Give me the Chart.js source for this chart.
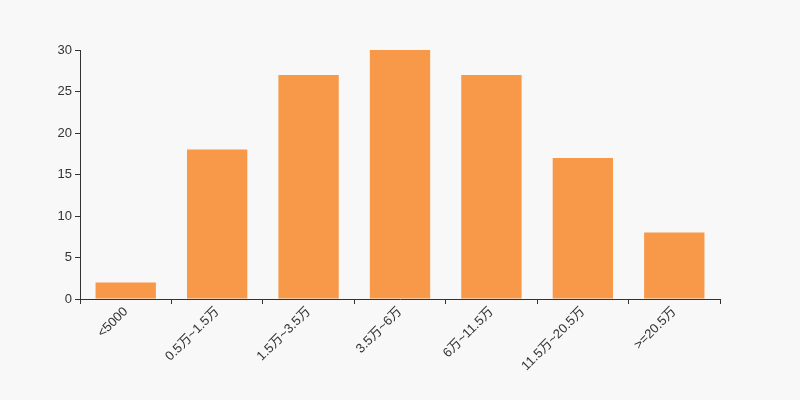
<!DOCTYPE html>
<html>
<head>
<meta charset="utf-8">
<script src="https://cdn.jsdelivr.net/npm/chart.js@4/dist/chart.umd.min.js"></script>
<style>
  html, body { margin: 0; padding: 0; background: #f8f8f8; }
  #wrap { width: 800px; height: 400px; }
</style>
</head>
<body>
<div id="wrap"><canvas id="bar_chart" width="800" height="400"></canvas></div>
<script>
const categories = ["<5000", "0.5万~1.5万", "1.5万~3.5万", "3.5万~6万", "6万~11.5万", "11.5万~20.5万", ">=20.5万"];
const counts = [2, 18, 27, 30, 27, 17, 8];
const yTicks = [0, 5, 10, 15, 20, 25, 30];

const FONT = "'Liberation Sans', Arial, 'Noto Sans CJK SC', sans-serif";
const AXIS_COLOR = "#333";

window.onload = function () {
  const ctx = document.getElementById("bar_chart").getContext("2d");
  new Chart(ctx, {
    type: "bar",
    data: {
      labels: categories,
      datasets: [
        {
          data: counts,
          backgroundColor: "#f8994a",
          barPercentage: 0.66,
          categoryPercentage: 1,
        },
      ],
    },
    options: {
      responsive: false,
      animation: false,
      layout: { padding: { left: 0, top: 50, right: 80, bottom: 0 } },
      plugins: {
        legend: { display: false },
        tooltip: { enabled: false },
      },
      scales: {
        x: {
          offset: true,
          grid: {
            display: true,
            offset: true,
            drawOnChartArea: false,
            drawTicks: true,
            tickLength: 5,
            color: AXIS_COLOR,
          },
          border: { display: true, color: AXIS_COLOR, width: 1 },
          ticks: {
            autoSkip: false,
            minRotation: 45,
            maxRotation: 45,
            padding: 0,
            color: "#333",
            font: { family: FONT, size: 13 },
          },
          afterFit(axis) {
            axis.height = 101;
          },
        },
        y: {
          min: 0,
          max: 30,
          afterBuildTicks(axis) {
            axis.ticks = yTicks.map((v) => ({ value: v }));
          },
          grid: {
            display: true,
            drawOnChartArea: false,
            drawTicks: true,
            tickLength: 5,
            color: AXIS_COLOR,
          },
          border: { display: true, color: AXIS_COLOR, width: 1 },
          ticks: {
            padding: 3,
            color: "#333",
            font: { family: FONT, size: 13 },
          },
          afterFit(axis) {
            axis.width = 80;
          },
        },
      },
    },
  });
};
</script>
</body>
</html>
